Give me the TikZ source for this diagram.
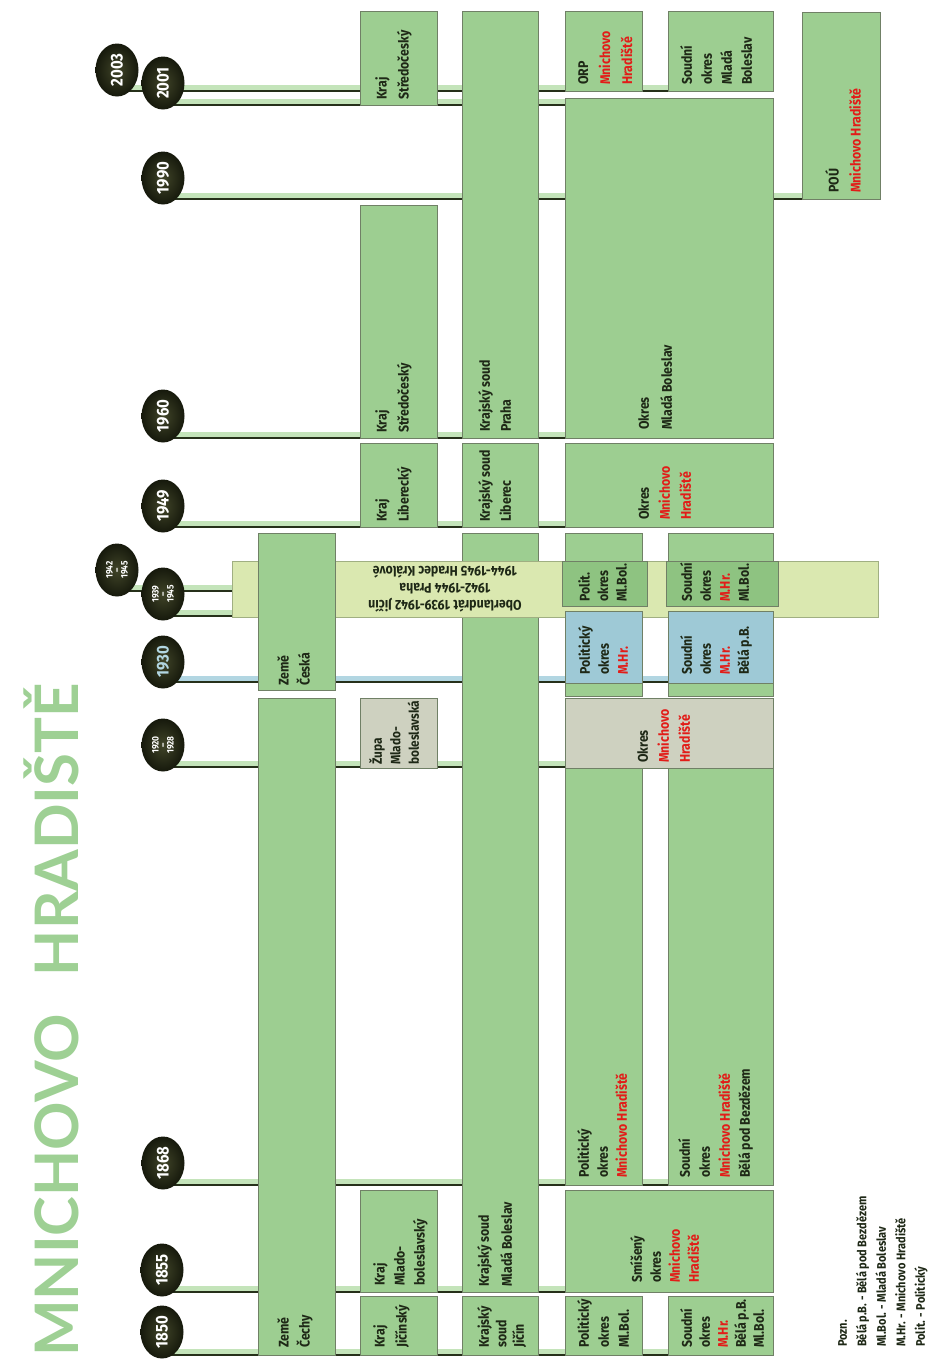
\documentclass[tikz,border=0pt]{standalone}
\usepackage{fontspec}
\setmainfont{Fira Sans}[FakeStretch=0.88]
\newfontfamily\titlefont{Lato}
\usetikzlibrary{shapes.geometric}

\definecolor{boxgreen}{RGB}{157,206,145}
\definecolor{darkgreen}{RGB}{142,195,129}
\definecolor{bandgreen}{RGB}{218,232,176}
\definecolor{bandedge}{RGB}{160,175,130}
\definecolor{boxblue}{RGB}{158,201,214}
\definecolor{boxgray}{RGB}{206,209,192}
\definecolor{boxedge}{RGB}{112,128,102}
\definecolor{txtdark}{RGB}{30,40,22}
\definecolor{txtred}{RGB}{226,28,24}
\definecolor{yeardark}{RGB}{22,25,12}
\definecolor{yearlight}{RGB}{64,68,40}
\definecolor{titlegreen}{RGB}{158,208,148}
\definecolor{linedark}{RGB}{38,48,26}
\definecolor{glowgreen}{RGB}{196,228,186}
\definecolor{glowblue}{RGB}{178,214,226}

\pgfdeclarelayer{bg}
\pgfsetlayers{bg,main}

\tikzset{
  box/.style={draw=boxedge, line width=0.6pt, fill=boxgreen, anchor=north west, inner sep=0pt, outer sep=0pt},
  lbl/.style={rotate=90, anchor=north west, align=left, inner sep=0pt, text=txtdark, font=\bfseries\fontsize{14}{#1}\selectfont},
  lbl/.default=19,
  year/.style={ellipse, rotate=90, minimum width=53pt, minimum height=43pt, inner sep=0pt, inner color=yearlight, outer color=yeardark, text=white, font=\bfseries\fontsize{17}{17}\selectfont},
  yearsm/.style={align=center, font=\bfseries\fontsize{9.5}{7.5}\selectfont},
  tline/.style={draw=linedark, line width=2.6pt},
  glow/.style={draw=glowgreen, line width=5pt, transform canvas={yshift=3.5pt}},
  ttl/.style={rotate=90, anchor=base west, inner sep=0pt, text=titlegreen, font=\titlefont\bfseries\fontsize{60}{60}\selectfont}
}

\newcommand{\mhr}[1]{{\color{txtred}#1}}
% [options]{x1}{y1}{x2}{y2}{name}
\newcommand{\period}[6][]{%
  \node[box,#1,minimum width={(#4-#2)*1pt},minimum height={(#5-#3)*1pt}] (#6) at (#2,#3) {};}

\begin{document}
\begin{tikzpicture}[x=1pt,y=-1pt]
    \useasboundingbox (0,0) rectangle (931,1360);

    % Title
    \node[ttl] (title) at (78,1357) {MNICHOVO\hspace{38pt}HRADIŠTĚ};

    % Year nodes
    \node[year] (y2003) at (117,70) {2003};
    \node[year] (y2001) at (163,83) {2001};
    \node[year] (y1990) at (163,178) {1990};
    \node[year] (y1960) at (163,416) {1960};
    \node[year] (y1949) at (163,506) {1949};
    \node[year, yearsm] (y1942) at (117,570) {1942\\–\\1945};
    \node[year, yearsm] (y1939) at (163,594) {1939\\–\\1945};
    \node[year, text=glowblue] (y1930) at (163,662) {1930};
    \node[year, yearsm] (y1920) at (163,745) {1920\\–\\1928};
    \node[year] (y1868) at (163,1163) {1868};
    \node[year] (y1855) at (162,1270) {1855};
    \node[year] (y1850) at (162,1332) {1850};

    % Line ends
    \coordinate (e2003) at (668,91);
    \coordinate (e2001) at (565,105);
    \coordinate (e1990) at (802,199);
    \coordinate (e1960) at (565,438);
    \coordinate (e1949) at (565,527);
    \coordinate (e1942) at (232,591);
    \coordinate (e1939) at (232,616);
    \coordinate (e1930) at (668,682);
    \coordinate (e1920) at (565,767);
    \coordinate (e1868) at (668,1185);
    \coordinate (e1855) at (565,1292);
    \coordinate (e1850) at (668,1355);

    % Draw time lines
    \begin{pgfonlayer}{bg}
    \foreach \yr in {2003,2001,1990,1960,1949,1942,1939,1920,1868,1855,1850}{
        \draw[glow] (y\yr.center |- e\yr) -- (e\yr);
        \draw[tline] (y\yr.center |- e\yr) -- (e\yr);
    }
    \draw[glow, draw=glowblue] (y1930.center |- e1930) -- (e1930);
    \draw[tline] (y1930.center |- e1930) -- (e1930);
    \end{pgfonlayer}

    % Země
    \period{258}{698}{335}{1355}{zCechy}
    % Kraj
    \period{360}{11}{437}{105}{kStred}
    \period{360}{205}{437}{438}{kStredB}
    \period{360}{443}{437}{527}{kLib}
    \period[fill=boxgray]{360}{698}{437}{768}{kZupa}
    \period{360}{1190}{437}{1292}{kMlBol}
    \period{360}{1296}{437}{1355}{kJicin}
    % Krajský soud
    \period{462}{11}{538}{438}{sPraha}
    \period{462}{443}{538}{527}{sLib}
    \period{462}{533}{538}{1292}{sMlBol}
    \period{462}{1296}{538}{1355}{sJicin}
    % Okresy
    \period{565}{11}{642}{91}{oORP}
    \period{668}{11}{773}{91}{dSoudMB}
    \period{565}{98}{773}{438}{oMlBol}
    \period{565}{443}{773}{527}{oMnHr}
    \period{565}{533}{642}{696}{pWar}
    \period{668}{533}{773}{696}{dWar}
    \period{565}{768}{642}{1185}{pMnHr}
    \period{668}{768}{773}{1185}{dMnHr}
    \period{565}{1190}{773}{1292}{oSmis}
    \period{565}{1296}{642}{1355}{pMlBol}
    \period{668}{1296}{773}{1355}{dMHr}
    \period{802}{12}{880}{199}{pou}

    % Oberlandrát band
    \period[fill=bandgreen, draw=bandedge]{232}{561}{878}{617}{band}
    \period{258}{533}{335}{690}{zCeska}
    \period[fill=darkgreen]{562}{561}{647}{606}{pPolit}
    \period[fill=darkgreen]{666}{561}{778}{606}{dPolit}
    \period[fill=boxblue]{565}{611}{642}{683}{pBlue}
    \period[fill=boxblue]{668}{611}{773}{683}{dBlue}
    \period[fill=boxgray]{565}{698}{773}{768}{oGray}

    % Labels
    \node[lbl=21] (lCechy) at (277,1348) {Země\\Čechy};
    \node[lbl=21] (lCeska) at (277,686) {Země\\Česká};
    \node[lbl=22] (lKStred) at (375,100) {Kraj\\Středočeský};
    \node[lbl=22] (lKStredB) at (375,433) {Kraj\\Středočeský};
    \node[lbl=22] (lKLib) at (375,522) {Kraj\\Liberecký};
    \node[lbl=18.5, font=\bfseries\fontsize{13.5}{18.5}\selectfont] (lZupa) at (369,765) {Župa\\Mlado-\\boleslavská};
    \node[lbl=20] (lKMlBol) at (373,1286) {Kraj\\Mlado-\\boleslavský};
    \node[lbl=22] (lKJicin) at (373,1348) {Kraj\\Jičínský};
    \node[lbl=21] (lSPraha) at (478,432) {Krajský soud\\Praha};
    \node[lbl=21] (lSLib) at (478,522) {Krajský soud\\Liberec};
    \node[lbl=23] (lSMlBol) at (477,1287) {Krajský soud\\Mladá Boleslav};
    \node[lbl=17.5] (lSJicin) at (477,1348) {Krajský\\soud\\Jičín};
    \node[lbl=22] (lORP) at (578,85) {ORP\\\mhr{Mnichovo}\\\mhr{Hradiště}};
    \node[lbl=20] (lSoudMB) at (680,85) {Soudní\\okres\\Mladá\\Boleslav};
    \node[lbl=23] (lOMlBol) at (638,430) {Okres\\Mladá Boleslav};
    \node[lbl=21] (lOMnHr) at (638,520) {Okres\\\mhr{Mnichovo}\\\mhr{Hradiště}};
    \node[lbl=18.5] (lPolit) at (578,602) {Polit.\\okres\\Ml.Bol.};
    \node[lbl=19] (lDPolit) at (680,602) {Soudní\\okres\\\mhr{M.Hr.}\\Ml.Bol.};
    \node[lbl=19] (lPBlue) at (578,675) {Politický\\okres\\\mhr{M.Hr.}};
    \node[lbl=19] (lDBlue) at (680,675) {Soudní\\okres\\\mhr{M.Hr.}\\Bělá p.B.};
    \node[lbl=21] (lGray) at (637,763) {Okres\\\mhr{Mnichovo}\\\mhr{Hradiště}};
    \node[lbl=19] (lPMnHr) at (577,1178) {Politický\\okres\\\mhr{Mnichovo Hradiště}};
    \node[lbl=20] (lDMnHr) at (678,1178) {Soudní\\okres\\\mhr{Mnichovo Hradiště}\\Bělá pod Bezdězem};
    \node[lbl=19] (lSmis) at (630,1283) {Smíšený\\okres\\\mhr{Mnichovo}\\\mhr{Hradiště}};
    \node[lbl=20] (lPMlBol) at (577,1348) {Politický\\okres\\Ml.Bol.};
    \node[lbl=18] (lDMHr) at (680,1348) {Soudní\\okres\\\mhr{M.Hr.}\\Bělá p.B.\\Ml.Bol.};
    \node[lbl=22] (lPou) at (825,193) {POÚ\\\mhr{Mnichovo Hradiště}};
    \node[lbl=17, rotate=90, anchor=center, align=center] (lBand) at (445,589)
        {Oberlandrát 1939-1942 Jičín\\1942-1944 Praha\\1944-1945 Hradec Králové};

    % Note
    \node[lbl=19.5, font=\bfseries\fontsize{12.5}{19.5}\selectfont] (lNote) at (838,1347)
        {Pozn.\\Bělá p.B. - Bělá pod Bezdězem\\Ml.Bol. - Mladá Boleslav\\M.Hr. - Mnichovo Hradiště\\Polit. - Politický};
\end{tikzpicture}
\end{document}
